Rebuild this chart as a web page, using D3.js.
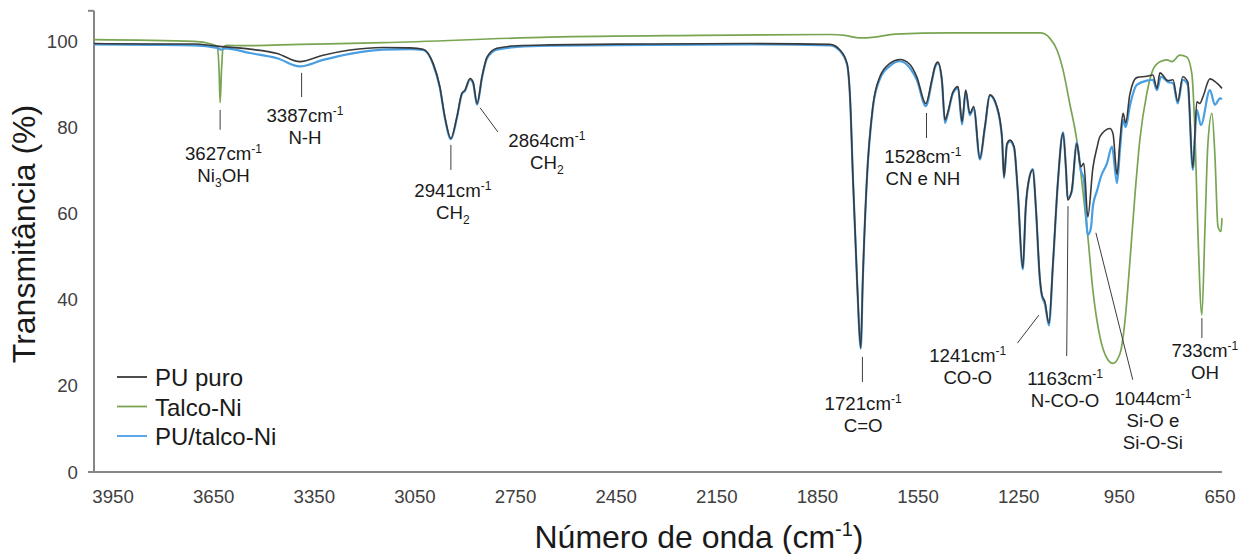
<!DOCTYPE html>
<html>
<head>
<meta charset="utf-8">
<script src="https://cdn.jsdelivr.net/npm/d3@7"></script>
<style>
  body { margin: 0; background: #fff; }
  svg { display: block; font-family: "Liberation Sans", Arial, sans-serif; }
</style>
</head>
<body>
<svg id="chart" width="1257" height="554"></svg>
<script>
// ---- data (wavenumber cm-1, transmittance %) ----
const xTicks = [3950, 3650, 3350, 3050, 2750, 2450, 2150, 1850, 1550, 1250, 950, 650];
const yTicks = [0, 20, 40, 60, 80, 100];
const seriesNames = ['PU puro', 'Talco-Ni', 'PU/talco-Ni'];

const puPuro = [
  [4007,99.4],[3840,99.3],[3709,99.3],[3640,98.8],[3542,98.1],[3461,97.1],[3393,95.2],[3324,96.7],
  [3244,97.9],[3145,98.5],[3065,98.4],[3026,98.1],[2996,94.8],[2976,89.4],[2961,82.4],[2943,77.4],
  [2925,82.4],[2910,87.9],[2901,88.6],[2886,91.3],[2877,90.5],[2865,85.5],[2850,91.8],[2835,96.3],
  [2806,98.3],[2746,98.9],[2648,99.1],[2350,99.3],[2051,99.4],[1813,99.2],[1783,97.9],[1762,94.8],
  [1753,87.1],[1744,67.7],[1732,44.5],[1721,28.8],[1715,44.5],[1703,67.7],[1685,84.8],[1664,91.7],
  [1634,94.8],[1604,95.7],[1575,94.6],[1554,91.7],[1527,85.5],[1509,91.0],[1500,94.1],[1491,95.1],
  [1479,91.0],[1470,81.7],[1461,83.6],[1446,88.2],[1431,89.4],[1419,81.3],[1408,88.6],[1396,83.2],
  [1384,84.8],[1366,72.8],[1351,80.1],[1336,87.5],[1315,84.8],[1300,77.8],[1294,68.5],[1285,76.2],
  [1276,77.0],[1264,75.5],[1253,65.4],[1238,47.3],[1229,61.6],[1220,67.7],[1208,70.1],[1199,61.6],
  [1187,45.0],[1181,41.2],[1172,39.5],[1160,34.5],[1148,48.4],[1133,67.7],[1118,78.6],[1109,70.1],
  [1104,63.1],[1092,65.4],[1077,76.2],[1065,70.8],[1056,71.6],[1044,59.2],[1029,70.5],[1016,75.5],
  [1008,77.8],[978,79.7],[969,78.5],[957,69.0],[948,77.0],[939,83.2],[931,81.0],[919,87.5],
  [898,91.5],[868,91.8],[850,92.1],[838,89.0],[829,92.6],[805,90.8],[790,91.0],[776,86.0],
  [761,91.7],[746,90.5],[731,70.6],[719,85.9],[710,85.5],[701,87.0],[680,91.2],[659,90.2],[644,89.0]
];

const talcoNi = [
  [4007,100.3],[3709,99.9],[3658,99.3],[3640,98.7],[3634,93.0],[3631,85.7],[3627,93.0],[3622,98.6],
  [3611,99.0],[3560,98.9],[3393,99.2],[3145,99.6],[2648,100.9],[2201,101.3],[1813,101.5],[1768,101.3],
  [1724,100.7],[1679,100.9],[1619,101.6],[1455,101.9],[1187,101.9],[1172,101.6],[1157,100.6],
  [1136,97.9],[1118,93.3],[1098,85.5],[1077,77.0],[1059,65.4],[1044,54.6],[1029,42.2],[1008,31.4],
  [987,26.4],[969,25.2],[948,27.5],[934,34.5],[919,48.4],[904,63.8],[889,77.0],[868,87.9],[850,93.3],
  [829,95.2],[808,95.6],[793,95.2],[770,96.7],[749,96.3],[734,92.5],[725,79.4],[716,56.1],[704,36.4],
  [695,56.1],[686,76.2],[674,83.2],[665,73.2],[656,56.9],[647,55.8],[644,58.9]
];

const puTalcoNi = [
  [4007,99.2],[3840,99.1],[3709,99.0],[3640,98.4],[3628,98.0],[3616,98.3],[3542,97.2],[3461,96.0],
  [3393,94.1],[3324,95.6],[3244,97.0],[3145,98.0],[3065,98.1],[3026,97.9],[2996,94.6],[2976,89.2],
  [2961,82.2],[2943,77.2],[2925,82.2],[2910,87.7],[2901,88.4],[2886,91.1],[2877,90.3],[2865,85.2],
  [2850,91.6],[2835,96.0],[2806,98.0],[2746,98.6],[2648,98.9],[2350,99.1],[2051,99.2],[1813,99.0],
  [1783,97.7],[1762,94.6],[1753,86.9],[1744,67.5],[1732,44.3],[1721,28.6],[1715,44.3],[1703,67.5],
  [1685,84.4],[1664,91.2],[1634,94.2],[1604,95.3],[1575,93.8],[1554,91.0],[1527,84.9],[1509,90.6],
  [1500,93.8],[1491,94.8],[1479,90.6],[1470,81.0],[1461,83.2],[1446,87.9],[1431,89.0],[1419,80.6],
  [1408,88.3],[1396,82.8],[1384,84.4],[1366,72.5],[1351,79.8],[1336,87.4],[1315,84.5],[1300,77.5],
  [1294,68.2],[1285,75.9],[1276,76.7],[1264,75.2],[1253,65.1],[1238,47.0],[1229,61.3],[1220,67.6],
  [1208,70.3],[1199,61.3],[1187,44.6],[1181,40.8],[1172,39.0],[1160,34.0],[1148,48.0],[1133,67.5],
  [1118,78.8],[1109,70.0],[1104,63.5],[1092,65.0],[1077,76.5],[1065,70.0],[1056,68.0],[1044,55.0],
  [1035,56.5],[1029,61.6],[1016,65.4],[1005,68.5],[987,71.6],[972,75.5],[957,67.0],[948,75.0],
  [939,81.7],[931,80.0],[919,84.8],[898,89.8],[868,90.8],[850,91.0],[838,88.6],[826,91.7],[805,90.5],
  [790,90.2],[776,85.5],[761,91.0],[746,89.8],[731,70.1],[719,84.0],[707,80.5],[680,88.6],[665,85.2],
  [650,86.7],[644,86.5]
];

// peak annotation texts: each line is a list of [text, kind]
const peakLabels = [
  { wn: 3627, lines: [[['Ni'], ['3', 'sub'], ['OH']]] },
  { wn: 3387, lines: [[['N-H']]] },
  { wn: 2941, lines: [[['CH'], ['2', 'sub']]] },
  { wn: 2864, lines: [[['CH'], ['2', 'sub']]] },
  { wn: 1528, lines: [[['CN e NH']]] },
  { wn: 1721, lines: [[['C=O']]] },
  { wn: 1241, lines: [[['CO-O']]] },
  { wn: 1163, lines: [[['N-CO-O']]] },
  { wn: 1044, lines: [[['Si-O e']], [['Si-O-Si']]] },
  { wn: 733,  lines: [[['OH']]] }
];

// leader line [wn1, T1, wn2, T2] and text anchor [wn, T] for each label
const peakLayout = [
  { leader: [3631, 84.0, 3631, 79.4], text: [3621, 72.4] },
  { leader: [3388, 92.6, 3388, 87.0], text: [3378, 81.2] },
  { leader: [2943, 75.9, 2943, 70.1], text: [2937, 63.8] },
  { leader: [2856, 84.5, 2803, 78.9], text: [2657, 75.4] },
  { leader: [1525, 83.3, 1525, 77.5], text: [1536, 71.7] },
  { leader: [1716, 26.7, 1716, 20.9], text: [1714, 14.4] },
  { leader: [1190, 36.4, 1254, 29.9], text: [1402, 25.5] },
  { leader: [1103, 61.7, 1107, 26.9], text: [1112, 20.2] },
  { leader: [1020, 55.5, 910, 21.4],  text: [850, 15.6] },
  { leader: [704, 35.7, 704, 31.1],   text: [695, 26.7] }
];

// ---- layout ----
const svg = d3.select('#chart');
const plotLeft = 94, plotRight = 1222, plotTop = 10.8, plotBottom = 472;

const x = d3.scaleLinear().domain([4007, 644]).range([plotLeft, plotRight]);
const y = d3.scaleLinear().domain([0, 107]).range([plotBottom, plotTop]);

const axisColor = '#868686';
const textColor = '#404040';

// axes
svg.append('line')
  .attr('x1', plotLeft).attr('x2', plotLeft)
  .attr('y1', plotTop).attr('y2', plotBottom + 1)
  .attr('stroke', axisColor).attr('stroke-width', 2);
svg.append('line')
  .attr('x1', plotLeft - 6).attr('x2', plotLeft)
  .attr('y1', plotTop).attr('y2', plotTop)
  .attr('stroke', axisColor).attr('stroke-width', 2);
svg.append('line')
  .attr('x1', plotLeft - 6).attr('x2', plotRight)
  .attr('y1', plotBottom).attr('y2', plotBottom)
  .attr('stroke', axisColor).attr('stroke-width', 2);

svg.append('g').selectAll('text')
  .data(yTicks)
  .join('text')
  .attr('x', 78).attr('y', d => y(d))
  .attr('dy', '0.35em')
  .attr('text-anchor', 'end')
  .attr('font-size', 18.67)
  .attr('fill', textColor)
  .text(d => d);

svg.append('g').selectAll('text')
  .data(xTicks)
  .join('text')
  .attr('x', d => x(d)).attr('y', 503)
  .attr('text-anchor', 'middle')
  .attr('font-size', 18.67)
  .attr('fill', textColor)
  .text(d => d);

// axis titles
svg.append('text')
  .attr('transform', 'translate(35,234) rotate(-90)')
  .attr('text-anchor', 'middle')
  .attr('font-size', 32)
  .attr('fill', '#1a1a1a')
  .text('Transmitância (%)');

const xTitle = svg.append('text')
  .attr('x', 699).attr('y', 548)
  .attr('text-anchor', 'middle')
  .attr('font-size', 32)
  .attr('fill', '#1a1a1a');
xTitle.append('tspan').text('Número de onda (cm');
xTitle.append('tspan').attr('font-size', 20).attr('dy', -12).text('-1');
xTitle.append('tspan').attr('dy', 12).text(')');

// spectra
const line = d3.line()
  .x(d => x(d[0]))
  .y(d => y(d[1]))
  .curve(d3.curveMonotoneX);

const series = [
  { name: seriesNames[1], data: talcoNi,   color: '#79a553', width: 1.7 },
  { name: seriesNames[2], data: puTalcoNi, color: '#4a9ee2', width: 2.2 },
  { name: seriesNames[0], data: puPuro,    color: '#3a3a3a', width: 1.6 }
];

svg.append('g').selectAll('path')
  .data(series)
  .join('path')
  .attr('d', d => line(d.data))
  .attr('fill', 'none')
  .attr('stroke', d => d.color)
  .attr('stroke-width', d => d.width)
  .attr('stroke-linejoin', 'round');

// peak annotations
const ann = svg.append('g').attr('font-size', 18.67).attr('fill', '#1a1a1a');
peakLabels.forEach((p, i) => {
  const lay = peakLayout[i];
  ann.append('line')
    .attr('x1', x(lay.leader[0])).attr('y1', y(lay.leader[1]))
    .attr('x2', x(lay.leader[2])).attr('y2', y(lay.leader[3]))
    .attr('stroke', '#3c3c3c').attr('stroke-width', 1);

  const tx = x(lay.text[0]);
  const ty = y(lay.text[1]);
  const head = ann.append('text')
    .attr('x', tx).attr('y', ty).attr('text-anchor', 'middle');
  head.append('tspan').text(p.wn + 'cm');
  head.append('tspan').attr('font-size', 12).attr('dy', -7).text('-1');

  p.lines.forEach((parts, k) => {
    const t = ann.append('text')
      .attr('x', tx).attr('y', ty + 22 * (k + 1)).attr('text-anchor', 'middle');
    let shift = 0;
    parts.forEach(([s, kind]) => {
      const want = kind === 'sub' ? 5 : kind === 'sup' ? -7 : 0;
      t.append('tspan')
        .attr('dy', want - shift)
        .attr('font-size', kind ? 12 : null)
        .text(s);
      shift = want;
    });
  });
});

// legend
const legendRows = [
  { name: seriesNames[0], color: '#3a3a3a' },
  { name: seriesNames[1], color: '#79a553' },
  { name: seriesNames[2], color: '#4a9ee2' }
];
const legend = svg.append('g').selectAll('g')
  .data(legendRows)
  .join('g')
  .attr('transform', (d, i) => `translate(117,${377 + i * 29.5})`);
legend.append('line')
  .attr('x1', 0).attr('x2', 30)
  .attr('stroke', d => d.color).attr('stroke-width', 1.8);
legend.append('text')
  .attr('x', 38).attr('y', 9)
  .attr('font-size', 24)
  .attr('fill', '#1a1a1a')
  .text(d => d.name);
</script>
</body>
</html>
